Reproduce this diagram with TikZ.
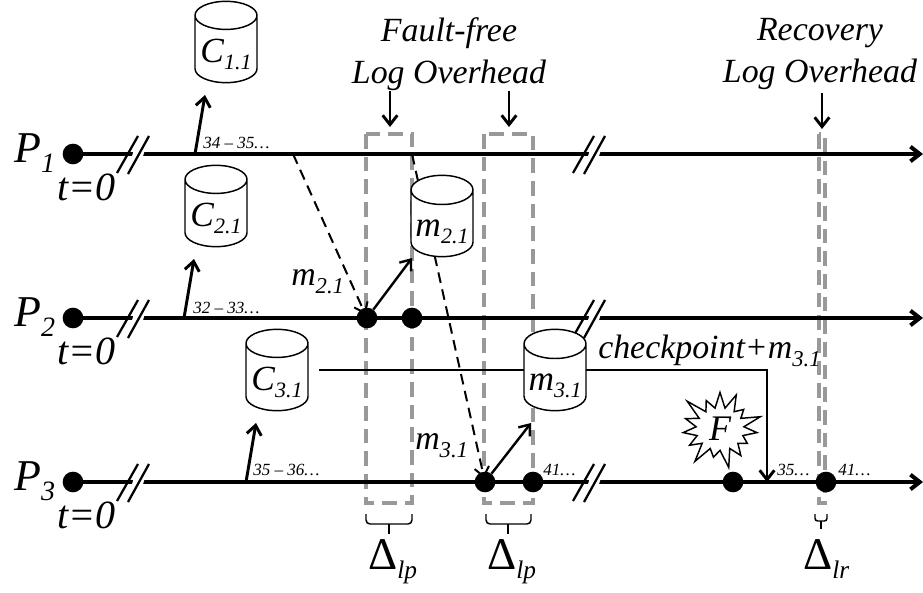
\documentclass[tikz,border=0pt]{standalone}
\usepackage{fontspec}
\setmainfont{Liberation Serif}
\usetikzlibrary{arrows.meta,shapes.geometric,shapes.symbols}

\newcommand{\subsc}[2]{#1\raisebox{-0.24em}{\fontsize{17}{17}\selectfont #2}}
\newcommand{\procsub}[2]{#1\raisebox{-0.24em}{\fontsize{21}{21}\selectfont #2}}
\newcommand{\cyltext}[2]{\raisebox{-9.5pt}[0pt][0pt]{#1\raisebox{-0.2em}{\fontsize{16.5}{17}\selectfont #2}}}
\newcommand{\axisbreak}[2]{%
\fill[white] (#1+10,#2+19) -- (#1+21,#2+19) -- (#1+32,#2-18) -- (#1+21,#2-18) -- cycle;
\draw[breakline] (#1,#2+19) -- (#1+21,#2-18);
\draw[breakline] (#1+11,#2+20) -- (#1+32,#2-18);
}

\tikzset{
  procline/.style={line width=3pt,-{Straight Barb[length=7pt,width=11pt]}},
  breakline/.style={line width=1.7pt},
  startdot/.style={circle,fill=black,inner sep=0pt,minimum size=15.5pt},
  eventdot/.style={circle,fill=black,inner sep=0pt,minimum size=15.5pt},
  logbox/.style={draw=gray!80,line width=2.5pt,dash pattern=on 11pt off 6pt},
  storage/.style={cylinder,shape border rotate=90,draw,fill=white,line width=1.1pt,aspect=0.55,inner sep=0pt,minimum width=46.5pt,minimum height=61pt,anchor=shape center,font=\fontsize{26.5}{28}\selectfont\itshape},
  biglabel/.style={inner sep=0pt,anchor=base west,font=\fontsize{25.4}{28}\selectfont\itshape},
  proclabel/.style={inner sep=0pt,anchor=base west,font=\fontsize{33}{33}\selectfont\itshape},
  startlabel/.style={inner sep=0pt,anchor=base west,font=\fontsize{30}{30}\selectfont\itshape},
  tinylabel/.style={inner sep=0pt,anchor=base west,font=\fontsize{12.8}{14}\selectfont\itshape},
  headlabel/.style={inner sep=0pt,align=center,font=\fontsize{25.4}{31.5}\selectfont\itshape},
  deltalabel/.style={inner sep=0pt,anchor=base west,font=\fontsize{34}{34}\selectfont},
  bigarrow/.style={line width=2.2pt,-{Straight Barb[length=7pt,width=11pt]}},
  msgline/.style={line width=1.5pt,dash pattern=on 8pt off 5pt,-{Straight Barb[length=7pt,width=11pt]}},
  bracket/.style={line width=1.1pt,rounded corners=3pt}
}

\begin{document}
\begin{tikzpicture}[x=0.75pt,y=-0.75pt]
\useasboundingbox (0,0) rectangle (923,592);

% log windows
\draw[logbox] (366,134) rectangle (412,503);
\draw[logbox] (484,134) rectangle (533,503);
\draw[logbox] (819,134) rectangle (825,503);

% dots
\foreach \n/\y in {1/154,2/318,3/482}
  \node[startdot] (s\n) at (73,\y) {};
\node[eventdot] (d21) at (367,318) {};
\node[eventdot] (d22) at (412,318) {};
\node[eventdot] (d31) at (485,482) {};
\node[eventdot] (d32) at (533,482) {};
\node[eventdot] (d33) at (733,482) {};
\node[eventdot] (d34) at (826,482) {};

% processes
\foreach \n/\y in {1/154,2/318,3/482} {
  \coordinate (e\n) at (923,\y);
  \draw[procline] (s\n.center) -- (e\n);
  \axisbreak{117}{\y}
  \axisbreak{573}{\y}
}

% checkpoints
\coordinate (a11) at (195,154);
\coordinate (t11) at (205,95);
\coordinate (a21) at (184,318);
\coordinate (t21) at (194,259);
\coordinate (a31) at (246,482);
\coordinate (t31) at (256,423);
\draw[bigarrow] (a11) -- (t11);
\draw[bigarrow] (a21) -- (t21);
\draw[bigarrow] (a31) -- (t31);

% messages
\coordinate (m1) at (293,154);
\coordinate (m2) at (412,154);
\coordinate (t22) at (412,258);
\coordinate (t32) at (531,423);
\draw[msgline,shorten >=-5pt] (m1) -- (d21);
\draw[msgline,shorten >=-5pt] (m2) -- (d31);
\draw[bigarrow,line width=1.8pt] (d21) -- (t22);
\draw[bigarrow,line width=1.8pt] (d31) -- (t32);

% recovery line
\coordinate (r1) at (319,370);
\coordinate (r2) at (767,482);
\draw[bigarrow] (r1) -| (r2);

% storage
\node[storage] (c11) at (226,42) {\cyltext{C}{1.1}};
\node[storage] (c21) at (216,206) {\cyltext{C}{2.1}};
\node[storage] (c31) at (277,370) {\cyltext{C}{3.1}};
\node[storage] (m21) at (442,216) {\cyltext{m}{2.1}};
\node[storage] (m31) at (555,370) {\cyltext{m}{3.1}};

% failure
\node[starburst,draw,fill=white,line width=1.1pt,starburst points=15,starburst point height=16pt,minimum width=68pt,minimum height=64pt,inner sep=0pt,font=\fontsize{27}{28}\selectfont\itshape] (fail) at (720,429) {F};

% labels
\node[proclabel] (p1) at (14,162) {\procsub{P}{1}};
\node[proclabel] (p2) at (14,326) {\procsub{P}{2}};
\node[proclabel] (p3) at (14,490) {\procsub{P}{3}};
\foreach \n/\y in {1/200,2/364,3/528}
  \node[startlabel] (t\n) at (57,\y) {t=0};
\node[tinylabel] (l1) at (203,148) {34 -- 35…};
\node[tinylabel] (l2) at (193,313) {32 -- 33…};
\node[tinylabel] (l3) at (253,475) {35 -- 36…};
\node[tinylabel] (l4) at (543,475) {41…};
\node[tinylabel] (l5) at (777,475) {35…};
\node[tinylabel] (l6) at (838,475) {41…};
\node[biglabel] (lm2) at (291,285) {\subsc{m}{2.1}};
\node[biglabel] (lm3) at (415,449) {\subsc{m}{3.1}};
\node[biglabel] (lck) at (598,358) {checkpoint+\subsc{m}{3.1}};

% overhead titles
\node[headlabel] (h1) at (449,54) {Fault-free\\Log Overhead};
\node[headlabel] (h2) at (820,54) {Recovery\\Log Overhead};
\coordinate (h1a) at (390,91);
\coordinate (h1b) at (390,127);
\coordinate (h2a) at (509,91);
\coordinate (h2b) at (509,127);
\coordinate (h3a) at (822,93);
\coordinate (h3b) at (822,129);
\draw[bigarrow] (h1a) -- (h1b);
\draw[bigarrow] (h2a) -- (h2b);
\draw[bigarrow] (h3a) -- (h3b);

% brackets
\draw[bracket] (366,514) -- (366,524) -- (412,524) -- (412,514);
\draw[bracket] (389,524) -- (389,534);
\draw[bracket] (486,514) -- (486,524) -- (531,524) -- (531,514);
\draw[bracket] (508,524) -- (508,534);
\draw[bracket,rounded corners=2pt] (815,514) -- (815,521) -- (827,521) -- (827,514);
\draw[bracket] (821,521) -- (821,529);
\node[deltalabel] (dl1) at (368,569) {Δ\raisebox{-0.22em}{\fontsize{19}{19}\selectfont\itshape lp}};
\node[deltalabel] (dl2) at (487,569) {Δ\raisebox{-0.22em}{\fontsize{19}{19}\selectfont\itshape lp}};
\node[deltalabel] (dl3) at (803,569) {Δ\raisebox{-0.22em}{\fontsize{19}{19}\selectfont\itshape lr}};
\end{tikzpicture}
\end{document}
